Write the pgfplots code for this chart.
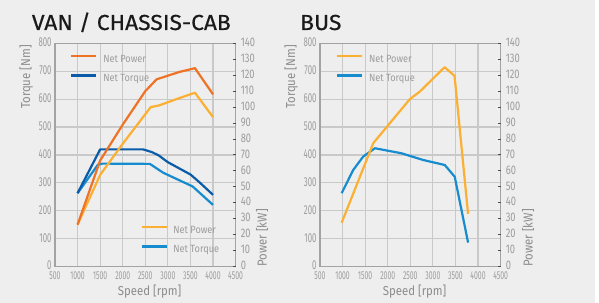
\documentclass[border=0pt]{standalone}
\usepackage{fontspec}
\setmainfont{Fira Sans}
\newfontfamily\titfont{Fira Sans}[FakeStretch=1.05, FakeBold=0.5]
\newfontfamily\tickfont{Fira Sans}[FakeStretch=0.6]
\newfontfamily\rtickfont{Fira Sans}[FakeStretch=0.75]
\newfontfamily\labfont{Fira Sans}[FakeStretch=0.88]
\usepackage{pgfplots}
\pgfplotsset{compat=1.18}
\definecolor{darkor}{HTML}{EE7326}
\definecolor{lightor}{HTML}{FBB034}
\definecolor{darkbl}{HTML}{0B5CA8}
\definecolor{midbl}{HTML}{168CCF}
\definecolor{bgc}{HTML}{EDEEED}
\definecolor{gridc}{HTML}{C8C9C8}
\definecolor{framec}{HTML}{A3A3A3}
\definecolor{tickc}{HTML}{9C9C9C}
\definecolor{labc}{HTML}{8C8C8C}
\definecolor{titc}{HTML}{1A1A1A}
\pgfplotsset{
  base/.style={scale only axis, width=180.6bp, height=223.3bp, xmin=500, xmax=4500,
    anchor=south west, /pgf/number format/assume math mode=true,
    /pgf/number format/1000 sep={},
    every axis plot/.append style={line width=2.2bp, line join=round, no markers},
    legend cell align=left,
    legend image code/.code={\draw[##1, line width=2.6bp] (0bp,3.2bp) -- (25bp,3.2bp);},
    legend style={anchor=north west, draw=none, fill=none, inner sep=0pt,
      row sep=10.8bp, column sep=5.5bp, font=\labfont\fontsize{10.5}{10.5}\selectfont,
      text=tickc, nodes={inner sep=0pt}}},
  torq/.style={base, ymin=0, ymax=800, xtick={500,1000,...,4500}, ytick={0,100,...,800},
    grid=major, grid style={draw=gridc, line width=1.2bp},
    axis line style={draw=framec, line width=1.2bp}, major tick length=0pt,
    xticklabel style={font=\tickfont\fontsize{11.5}{12}\selectfont, text=tickc, inner sep=0pt, yshift=-4.6bp},
    yticklabel style={font=\tickfont\fontsize{13}{13}\selectfont, text=tickc, inner sep=0pt, xshift=-3.3bp, yshift=1bp},
    xlabel={Speed [rpm]}, ylabel={Torque [Nm]},
    label style={font=\labfont\fontsize{13}{13}\selectfont, text=labc, inner sep=0pt},
    xlabel style={at={(axis description cs:0.524,0)}, anchor=north, yshift=-18.5bp}},
  pow/.style={base, ymin=0, ymax=140, ytick={0,10,...,140},
    axis y line*=right, axis x line=none,
    axis line style={draw=none},
    ytick style={draw=black!70, line width=0.9bp}, major tick length=2.5bp, tick align=inside,
    yticklabel style={font=\rtickfont\fontsize{12.5}{13}\selectfont, text=tickc, inner sep=0pt, xshift=5bp, yshift=1bp},
    ylabel={Power [kW]},
    label style={font=\labfont\fontsize{13}{13}\selectfont, text=labc, inner sep=0pt}}
}
\begin{document}
\begin{tikzpicture}
\path[use as bounding box] (0,0) rectangle (599bp,303bp);
\fill[white] (0,0) rectangle (599bp,303bp);
\fill[bgc] (0,0) rectangle (595bp,303bp);
\node[anchor=base west, inner sep=0pt, text=titc, font=\titfont\fontsize{21.8}{22}\selectfont] at (31.7bp,273bp) {VAN / CHASSIS-CAB};
\node[anchor=base west, inner sep=0pt, text=titc, font=\titfont\fontsize{21.8}{22}\selectfont] at (300bp,273bp) {BUS};
% ---------- VAN torque
\begin{axis}[torq, at={(55bp,36.4bp)},
  ylabel style={at={(axis description cs:-0.16,0.992)}, anchor=east, rotate=0},
  legend style={at={(axis description cs:0.083,0.950)}}]
\addlegendimage{draw=darkor}\addlegendentry{Net Power}
\addlegendimage{draw=darkbl}\addlegendentry{Net Torque}
\addplot[draw=midbl, forget plot] coordinates {(1000,263) (1450,365) (1550,369) (2600,368) (2900,336) (3550,287) (4000,221)};
\addplot[draw=darkbl, forget plot] coordinates {(1000,263) (1500,420) (2450,420) (2650,410) (2800,398) (3000,374) (3500,330) (3700,302) (4000,257)};
\end{axis}
% ---------- VAN power
\begin{axis}[pow, at={(55bp,36.4bp)},
  ylabel style={at={(axis description cs:1.146,0)}, anchor=west, rotate=0},
  legend style={at={(axis description cs:0.471,0.184)}}]
\addlegendimage{draw=lightor}\addlegendentry{Net Power}
\addlegendimage{draw=midbl}\addlegendentry{Net Torque}
\addplot[draw=lightor, forget plot] coordinates {(1000,26.3) (1500,57.5) (2000,77) (2620,100) (2800,101) (3250,105.6) (3600,109) (4000,93.7)};
\addplot[draw=darkor, forget plot] coordinates {(1000,26.3) (1500,66.5) (2000,89) (2500,110) (2750,117.4) (3250,122) (3600,124.4) (4000,108)};
\end{axis}
% ---------- BUS torque
\begin{axis}[torq, at={(320bp,36.4bp)},
  ylabel style={at={(axis description cs:-0.16,0.992)}, anchor=east, rotate=0},
  legend style={at={(axis description cs:0.087,0.950)}}]
\addlegendimage{draw=lightor}\addlegendentry{Net Power}
\addlegendimage{draw=midbl}\addlegendentry{Net Torque}
\addplot[draw=midbl, forget plot] coordinates {(980,263) (1235,346) (1456,394) (1715,424) (2305,406) (2783,382) (3263,364) (3484,322) (3780,86)};
\end{axis}
% ---------- BUS power
\begin{axis}[pow, at={(320bp,36.4bp)},
  ylabel style={at={(axis description cs:1.152,0)}, anchor=west, rotate=0}]
\addplot[draw=lightor] coordinates {(980,27.5) (1680,77.4) (2490,105) (2710,109.7) (3260,125) (3480,119.6) (3780,33)};
\end{axis}
\end{tikzpicture}
\end{document}
